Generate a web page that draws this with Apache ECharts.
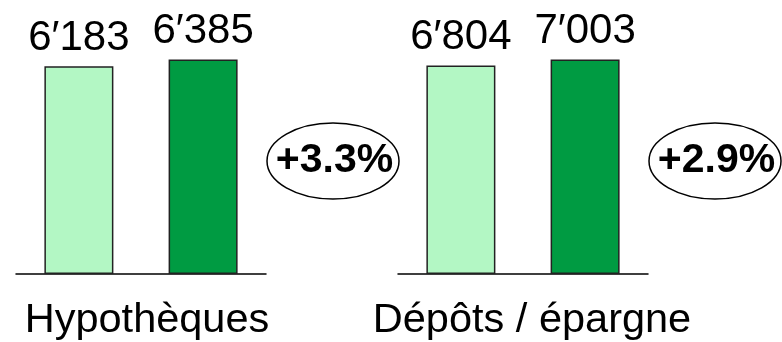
<!DOCTYPE html>
<html>
<head>
<meta charset="utf-8">
<style>
  html, body { margin: 0; padding: 0; background: #ffffff; }
  #chart { width: 782px; height: 342px; }
</style>
<script src="https://cdn.jsdelivr.net/npm/echarts@6/dist/echarts.min.js"></script>
</head>
<body>
<div id="chart"></div>
<script>
// Volumes by business line, previous vs. current period
const categories = ['Hypothèques', 'Dépôts / épargne'];
const previousValues = [6183, 6804];
const currentValues = [6385, 7003];

const FONT = '"Liberation Sans", Arial, Helvetica, sans-serif';
const LIGHT = '#b3f7c4';
const DARK = '#009b42';

// Swiss-style thousands separator: 6′183
function fmt(v) {
  return String(v).replace(/\B(?=(\d{3})+(?!\d))/g, '′');
}
function growth(a, b) {
  const g = (b / a - 1) * 100;
  return (g >= 0 ? '+' : '') + g.toFixed(1) + '%';
}

const gridLefts = [16, 398];
const labelPad = [12, 18];
const grids = [], xAxes = [], yAxes = [], series = [];

categories.forEach((cat, i) => {
  grids.push({ left: gridLefts[i], width: 250, top: 59.5, bottom: 65.3 });
  xAxes.push({
    type: 'category', gridIndex: i, data: [cat],
    axisLine: { lineStyle: { color: '#000', width: 1.5 } },
    axisTick: { show: false },
    axisLabel: {
      fontFamily: FONT, fontSize: 41.5, color: '#000', margin: 26,
      padding: [0, 0, 0, labelPad[i]]
    }
  });
  yAxes.push({ type: 'value', gridIndex: i, min: 0, max: 'dataMax', show: false, splitLine: { show: false } });

  const label = {
    show: true, position: 'top', distance: 7,
    fontFamily: FONT, fontSize: 42, color: '#000',
    formatter: p => fmt(p.value)
  };
  series.push({
    type: 'bar', xAxisIndex: i, yAxisIndex: i, data: [previousValues[i]],
    barWidth: 69, barGap: '80%',
    itemStyle: { color: LIGHT, borderColor: '#222', borderWidth: 1.5 },
    label
  });
  series.push({
    type: 'bar', xAxisIndex: i, yAxisIndex: i, data: [currentValues[i]],
    barWidth: 69, barGap: '80%',
    itemStyle: { color: DARK, borderColor: '#222', borderWidth: 1.5 },
    label
  });
});

// Growth bubbles to the right of each group
const bubbleCenters = [[333, 161], [715, 161]];
const graphic = [];
categories.forEach((cat, i) => {
  const [cx, cy] = bubbleCenters[i];
  graphic.push({
    type: 'ellipse', shape: { cx, cy, rx: 66, ry: 38 },
    style: { fill: 'none', stroke: '#000', lineWidth: 1.5 }, z: 10
  });
  graphic.push({
    type: 'text', x: cx + 1.5, y: cy - 0.5, z: 11,
    style: {
      text: growth(previousValues[i], currentValues[i]),
      font: 'bold 41px ' + FONT, fill: '#000',
      align: 'center', verticalAlign: 'middle'
    }
  });
});

const chart = echarts.init(document.getElementById('chart'), null, { renderer: 'canvas' });
chart.setOption({
  animation: false,
  backgroundColor: '#ffffff',
  grid: grids, xAxis: xAxes, yAxis: yAxes,
  series, graphic
});
</script>
</body>
</html>
